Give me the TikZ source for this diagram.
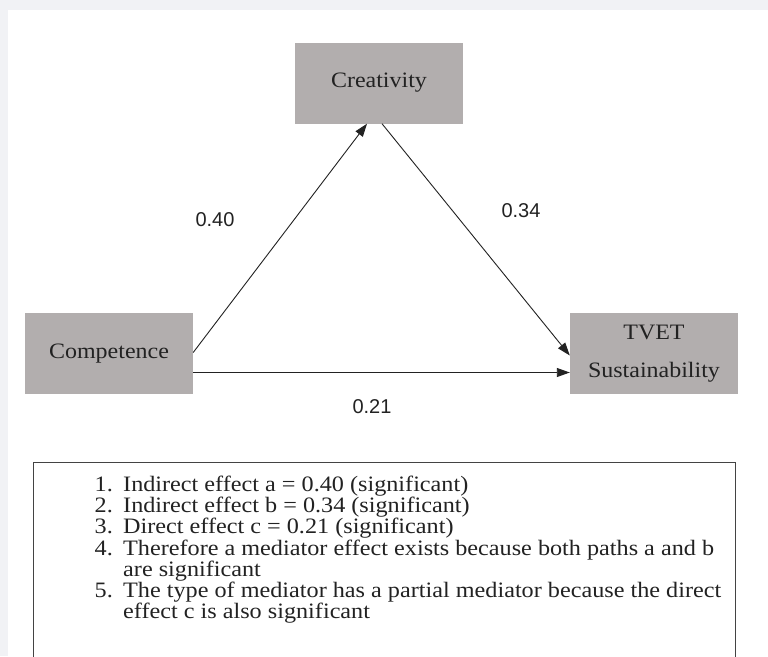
\documentclass[tikz,border=0pt]{standalone}
\usepackage{fontspec}
\setmainfont{Liberation Serif}[FakeStretch=1.09]
\newfontfamily\listfont{Liberation Serif}[FakeStretch=1.10]
\newfontfamily\labelfont{Liberation Sans}
\usetikzlibrary{arrows.meta}
\definecolor{boxgrey}{HTML}{B2AEAE}
\definecolor{framegrey}{HTML}{F1F2F5}
\definecolor{inkdark}{HTML}{222222}
\tikzset{
  varbox/.style={rectangle, fill=boxgrey, minimum width=168pt, minimum height=81pt,
    inner sep=0pt, text=inkdark, font=\fontsize{22}{26}\selectfont, align=center},
  path/.style={draw=inkdark, line width=0.9pt,
    -{Triangle[length=13pt,width=9pt]}},
  coef/.style={text=inkdark, font=\labelfont\fontsize{20}{24}\selectfont},
  num/.style={anchor=base east, inner sep=0pt, text=inkdark, font=\listfont\fontsize{22}{25}\selectfont},
  item/.style={anchor=base west, inner sep=0pt, text=inkdark, font=\listfont\fontsize{22}{25}\selectfont}
}
\begin{document}
\begin{tikzpicture}[x=1pt, y=-1pt]
\useasboundingbox (0,0) rectangle (768,656);
% page frame
\fill[framegrey] (0,0) rectangle (768,656);
\fill[white] (8,10) rectangle (768,656);

% variables
\node[varbox] (crea) at (379,83) {Creativity};
\node[varbox] (comp) at (109,353.5) {Competence};
\node[varbox] (tvet) at (654,353.5) {TVET\\[12pt]Sustainability};

% paths
\draw[path] ([yshift=1pt]comp.east) -- ([xshift=-12pt]crea.south);
\draw[path] ([xshift=3pt]crea.south) -- ([yshift=-2pt]tvet.west);
\draw[path] ([yshift=-19pt]comp.east) -- ([yshift=-19pt]tvet.west);

% coefficients
\node[coef] (ca) at (215,220) {0.40};
\node[coef] (cb) at (521,211) {0.34};
\node[coef] (cc) at (372,407) {0.21};

% summary box
\begin{scope}
\clip (0,0) rectangle (768,656);
\draw[draw=inkdark!85, line width=1pt] (33,670) -- (33,462) -- (735,462) -- (735,670);
\end{scope}
\node[num] (n1) at (113,491) {1.};
\node[item] (t1) at (123,491) {Indirect effect a = 0.40 (significant)};
\node[num] (n2) at (113,512) {2.};
\node[item] (t2) at (123,512) {Indirect effect b = 0.34 (significant)};
\node[num] (n3) at (113,533) {3.};
\node[item] (t3) at (123,533) {Direct effect c = 0.21 (significant)};
\node[num] (n4) at (113,555) {4.};
\node[item] (t4) at (123,555) {Therefore a mediator effect exists because both paths a and b};
\node[item] (t4b) at (123,576) {are significant};
\node[num] (n5) at (113,597) {5.};
\node[item] (t5) at (123,597) {The type of mediator has a partial mediator because the direct};
\node[item] (t5b) at (123,618) {effect c is also significant};
\end{tikzpicture}
\end{document}
